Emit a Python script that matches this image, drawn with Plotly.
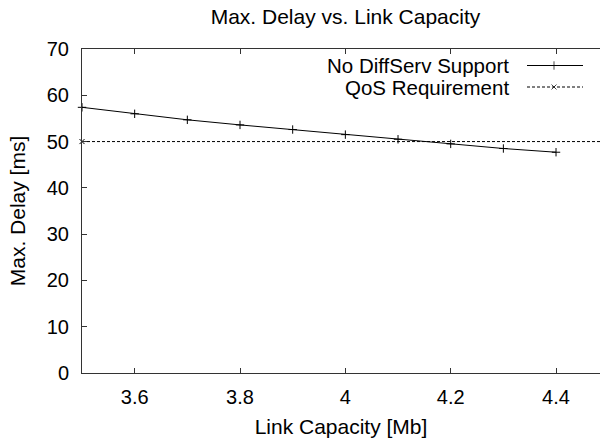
import plotly.graph_objects as go

capacity = [3.5, 3.6, 3.7, 3.8, 3.9, 4.0, 4.1, 4.2, 4.3, 4.4]
max_delay = [57.4, 56.0, 54.7, 53.6, 52.6, 51.5, 50.5, 49.5, 48.5, 47.7]
qos_x = [3.5, 4.5]
qos_y = [50, 50]
series_names = ["No DiffServ Support", "QoS Requirement"]
x_ticks = [3.6, 3.8, 4.0, 4.2, 4.4]
x_tick_text = ["3.6", "3.8", "4", "4.2", "4.4"]
y_ticks = [0, 10, 20, 30, 40, 50, 60, 70]

FONT = "Liberation Sans, Arial, sans-serif"
TEXT_SIZE = 21
LEG_SIZE = 20.5
TICK_SIZE = 20
W, H = 600, 439
L, R, T, B = 82, 0, 49, 66
px_per_unit = 526.7
x_max = 3.5 + (W - L - R) / px_per_unit

fig = go.Figure()
fig.add_trace(go.Scatter(
    x=capacity, y=max_delay, mode="lines+markers",
    line=dict(color="black", width=1),
    marker=dict(symbol="cross-thin", size=6, line=dict(color="black", width=1)),
    showlegend=False, cliponaxis=False))
fig.add_trace(go.Scatter(
    x=qos_x, y=qos_y, mode="lines+markers",
    line=dict(color="black", width=1, dash="3px,2px"),
    marker=dict(symbol="x-thin", size=5, line=dict(color="black", width=1)),
    showlegend=False, cliponaxis=False))

# legend keys on a pixel-coordinate overlay axis
leg_rows = [65.5, 87]
leg_x0, leg_x1, leg_mid, leg_text_x = 527, 583, 554, 510
styles = [
    dict(dash="solid", symbol="cross-thin", size=6),
    dict(dash="3px,2px", symbol="x-thin", size=5),
]
for name, yy, st in zip(series_names, leg_rows, styles):
    fig.add_trace(go.Scatter(
        x=[leg_x0, leg_mid, leg_x1], y=[yy, yy, yy], xaxis="x2", yaxis="y2",
        mode="lines+markers",
        line=dict(color="black", width=1, dash=st["dash"]),
        marker=dict(symbol=st["symbol"], size=[0, st["size"], 0],
                    line=dict(color="black", width=1)),
        showlegend=False, hoverinfo="skip"))
    fig.add_annotation(x=leg_text_x, y=yy, xref="x2", yref="y2", text=name,
                       showarrow=False, xanchor="right", yanchor="middle",
                       borderpad=0,
                       font=dict(family=FONT, size=LEG_SIZE, color="black"))

fig.update_layout(
    width=W, height=H,
    margin=dict(l=L, r=R, t=T, b=B, pad=0),
    paper_bgcolor="white", plot_bgcolor="white",
    font=dict(family=FONT, size=TEXT_SIZE, color="black"),
    title=dict(text="Max. Delay vs. Link Capacity", x=(L + 609) / 2 / W,
               xanchor="center", y=1 - 17 / H, yanchor="middle",
               font=dict(family=FONT, size=TEXT_SIZE, color="black")),
    xaxis=dict(range=[3.5, x_max], tickvals=x_ticks, ticktext=x_tick_text,
               ticks="inside", ticklen=5, tickcolor="#333", showgrid=False,
               zeroline=False, showline=True, linecolor="#333", linewidth=1,
               mirror="ticks", ticklabelstandoff=6,
               title=dict(text="Link Capacity [Mb]", standoff=12,
                          font=dict(family=FONT, size=TEXT_SIZE)),
               tickfont=dict(family=FONT, size=TICK_SIZE)),
    yaxis=dict(range=[0, 70], tickvals=y_ticks, ticks="inside", ticklen=5,
               tickcolor="#333", showgrid=False, zeroline=False, showline=True,
               linecolor="#333", linewidth=1, ticklabelstandoff=8,
               title=dict(text="Max. Delay [ms]", standoff=15,
                          font=dict(family=FONT, size=TEXT_SIZE)),
               tickfont=dict(family=FONT, size=TICK_SIZE)),
    xaxis2=dict(overlaying="x", range=[L, W - R], visible=False, fixedrange=True),
    yaxis2=dict(overlaying="y", range=[H - B, T], visible=False, fixedrange=True),
    showlegend=False,
)

fig.write_html("out.html")
